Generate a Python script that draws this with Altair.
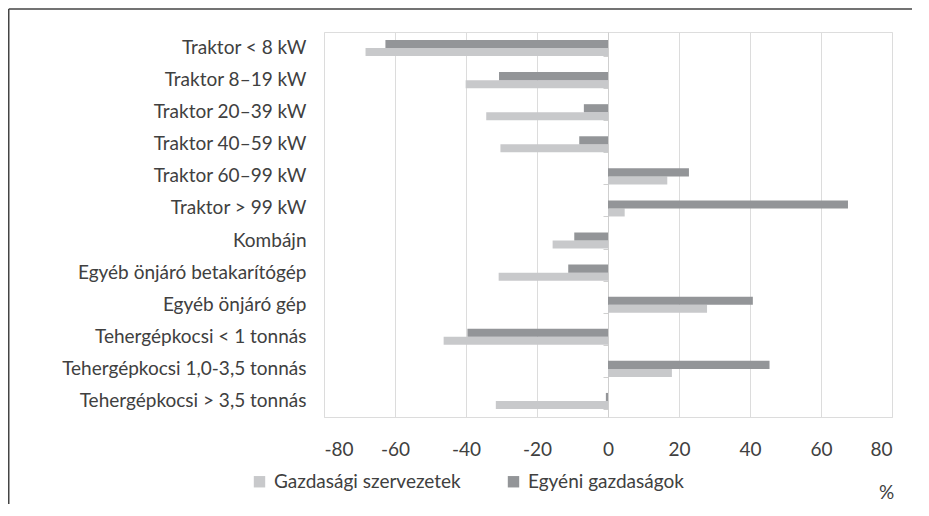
import altair as alt
import pandas as pd

categories = [
    "Traktor < 8 kW",
    "Traktor 8–19 kW",
    "Traktor 20–39 kW",
    "Traktor 40–59 kW",
    "Traktor 60–99 kW",
    "Traktor > 99 kW",
    "Kombájn",
    "Egyéb önjáró betakarítógép",
    "Egyéb önjáró gép",
    "Tehergépkocsi < 1 tonnás",
    "Tehergépkocsi 1,0-3,5 tonnás",
    "Tehergépkocsi > 3,5 tonnás",
]
series = ["Gazdasági szervezetek", "Egyéni gazdaságok"]
gazdasagi = [-68.3, -40.1, -34.3, -30.3, 16.7, 4.7, -15.6, -30.8, 27.9, -46.3, 18.0, -31.6]
egyeni = [-62.7, -30.7, -6.8, -8.1, 22.8, 67.6, -9.5, -11.2, 40.8, -39.6, 45.5, -0.6]
x_ticks = [-80, -60, -40, -20, 0, 20, 40, 60, 80]

rows = []
for c, g, e in zip(categories, gazdasagi, egyeni):
    rows.append({"cat": c, "series": series[0], "value": g})
    rows.append({"cat": c, "series": series[1], "value": e})
df = pd.DataFrame(rows)

FONT = "Lato"
FS = 19
TXT = "#404040"

y_scale = alt.Scale(domain=categories, paddingInner=0.5, paddingOuter=0.25)
x_scale = alt.Scale(domain=[-80, 80], nice=False)

x_enc = alt.X("value:Q", scale=x_scale,
              axis=alt.Axis(values=x_ticks, title="%", grid=True, gridColor="#dcdcdc",
                            domainColor="#dcdcdc", ticks=False, labelPadding=23,
                            labelExpr="'' + datum.value",
                            labelFontSize=FS, labelColor=TXT, labelFont=FONT,
                            titleFont=FONT, titleFontSize=FS, titleFontWeight="normal",
                            titleColor=TXT, titleX=562, titleY=75, titleAnchor="middle",
                            titleBaseline="middle"))

bars = alt.Chart(df).mark_bar().encode(
    x=x_enc,
    y=alt.Y("cat:N", scale=y_scale, sort=categories,
            axis=alt.Axis(orient="left", title=None, ticks=False, domain=False,
                          labelPadding=18, labelFontSize=FS, labelColor=TXT,
                          labelFont=FONT, labelLimit=400)),
    yOffset=alt.YOffset("series:N", sort=[series[1], series[0]]),
    color=alt.Color("series:N",
                    scale=alt.Scale(domain=series, range=["#c8c9cb", "#939598"]),
                    legend=alt.Legend(title=None, orient="none", direction="horizontal",
                                      legendX=-74, legendY=440, symbolType="square",
                                      symbolSize=130, symbolStrokeWidth=0,
                                      labelFontSize=FS, labelColor=TXT, labelFont=FONT,
                                      labelOffset=5, columnPadding=43, labelLimit=400)),
)

axis0 = alt.Chart(df).mark_bar(opacity=0).encode(
    x=x_enc,
    y=alt.Y("cat:N", scale=y_scale, sort=categories,
            axis=alt.Axis(orient="left", title=None, labels=False, ticks=True,
                          tickBand="extent", tickSize=5, tickColor="#cfcfcf",
                          domain=True, domainColor="#cfcfcf", offset=-284)),
)

frame_df = pd.DataFrame({"k": [0]})
frame_left = alt.Chart(frame_df).mark_rule(color="#444444", strokeWidth=1.5).encode(
    x=alt.value(-315.25), y=alt.value(-22.95), y2=alt.value(472))
frame_top = alt.Chart(frame_df).mark_rule(color="#444444", strokeWidth=1.5).encode(
    x=alt.value(-315.25), x2=alt.value(588), y=alt.value(-22.95))

chart = alt.layer(frame_left, frame_top, bars, axis0).resolve_axis(y="independent").properties(
    width=568, height=385,
    autosize=alt.AutoSizeParams(type="none"),
    padding={"left": 316, "top": 24, "right": 29, "bottom": 91},
).configure_view(stroke="transparent", strokeWidth=0).configure(font=FONT, background="white")

chart.save("out.html", embed_options={"renderer": "svg", "actions": False})
